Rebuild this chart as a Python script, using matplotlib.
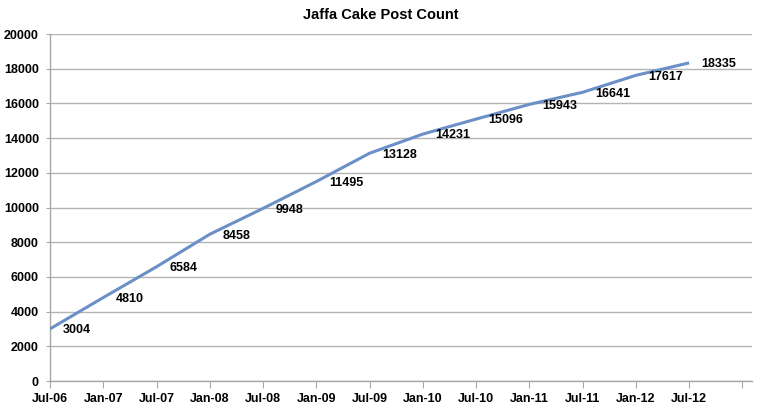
import matplotlib
matplotlib.use('Agg')
import matplotlib.pyplot as plt
import numpy as np

# data
months = ['Jul-06', 'Jan-07', 'Jul-07', 'Jan-08', 'Jul-08', 'Jan-09', 'Jul-09',
          'Jan-10', 'Jul-10', 'Jan-11', 'Jul-11', 'Jan-12', 'Jul-12']
posts = [3004, 4810, 6584, 8458, 9948, 11495, 13128,
         14231, 15096, 15943, 16641, 17617, 18335]

plt.rcParams['font.family'] = ['Liberation Sans', 'DejaVu Sans']
plt.rcParams['font.weight'] = 'bold'

fig = plt.figure(figsize=(7.62, 4.12), dpi=100)
ax = fig.add_axes([50/762, 1-381/412, 702/762, 347/412])

x = np.arange(len(months))
ax.plot(x, posts, color='#6b8fc7', lw=2.2, solid_capstyle='butt', zorder=3)

for xi, yi in zip(x, posts):
    ax.annotate(str(yi), (xi, yi), xytext=(9, -1), textcoords='offset points',
                ha='left', va='center', fontsize=9, fontweight='bold')

ax.set_ylim(0, 20000)
ax.set_yticks(np.arange(0, 20001, 2000))
ax.set_xlim(0, 13.18)
ax.set_xticks(np.arange(0, 14))
ax.set_xticklabels(months + [''])
ax.yaxis.grid(True, color='#b4b4b4', lw=1)
ax.set_axisbelow(True)

for s in ['top', 'right']:
    ax.spines[s].set_visible(False)
for s in ['left', 'bottom']:
    ax.spines[s].set_color('#a8a8a8')
    ax.spines[s].set_linewidth(1)
ax.tick_params(axis='x', direction='out', length=5, color='#a8a8a8', pad=4, labelsize=9)
ax.tick_params(axis='y', direction='out', length=3, color='#a8a8a8', pad=5, labelsize=9)

fig.text(0.5, 1-15/412, 'Jaffa Cake Post Count', ha='center', va='center',
         fontsize=10.5, fontweight='bold')

fig.savefig('out.png', dpi=100)
